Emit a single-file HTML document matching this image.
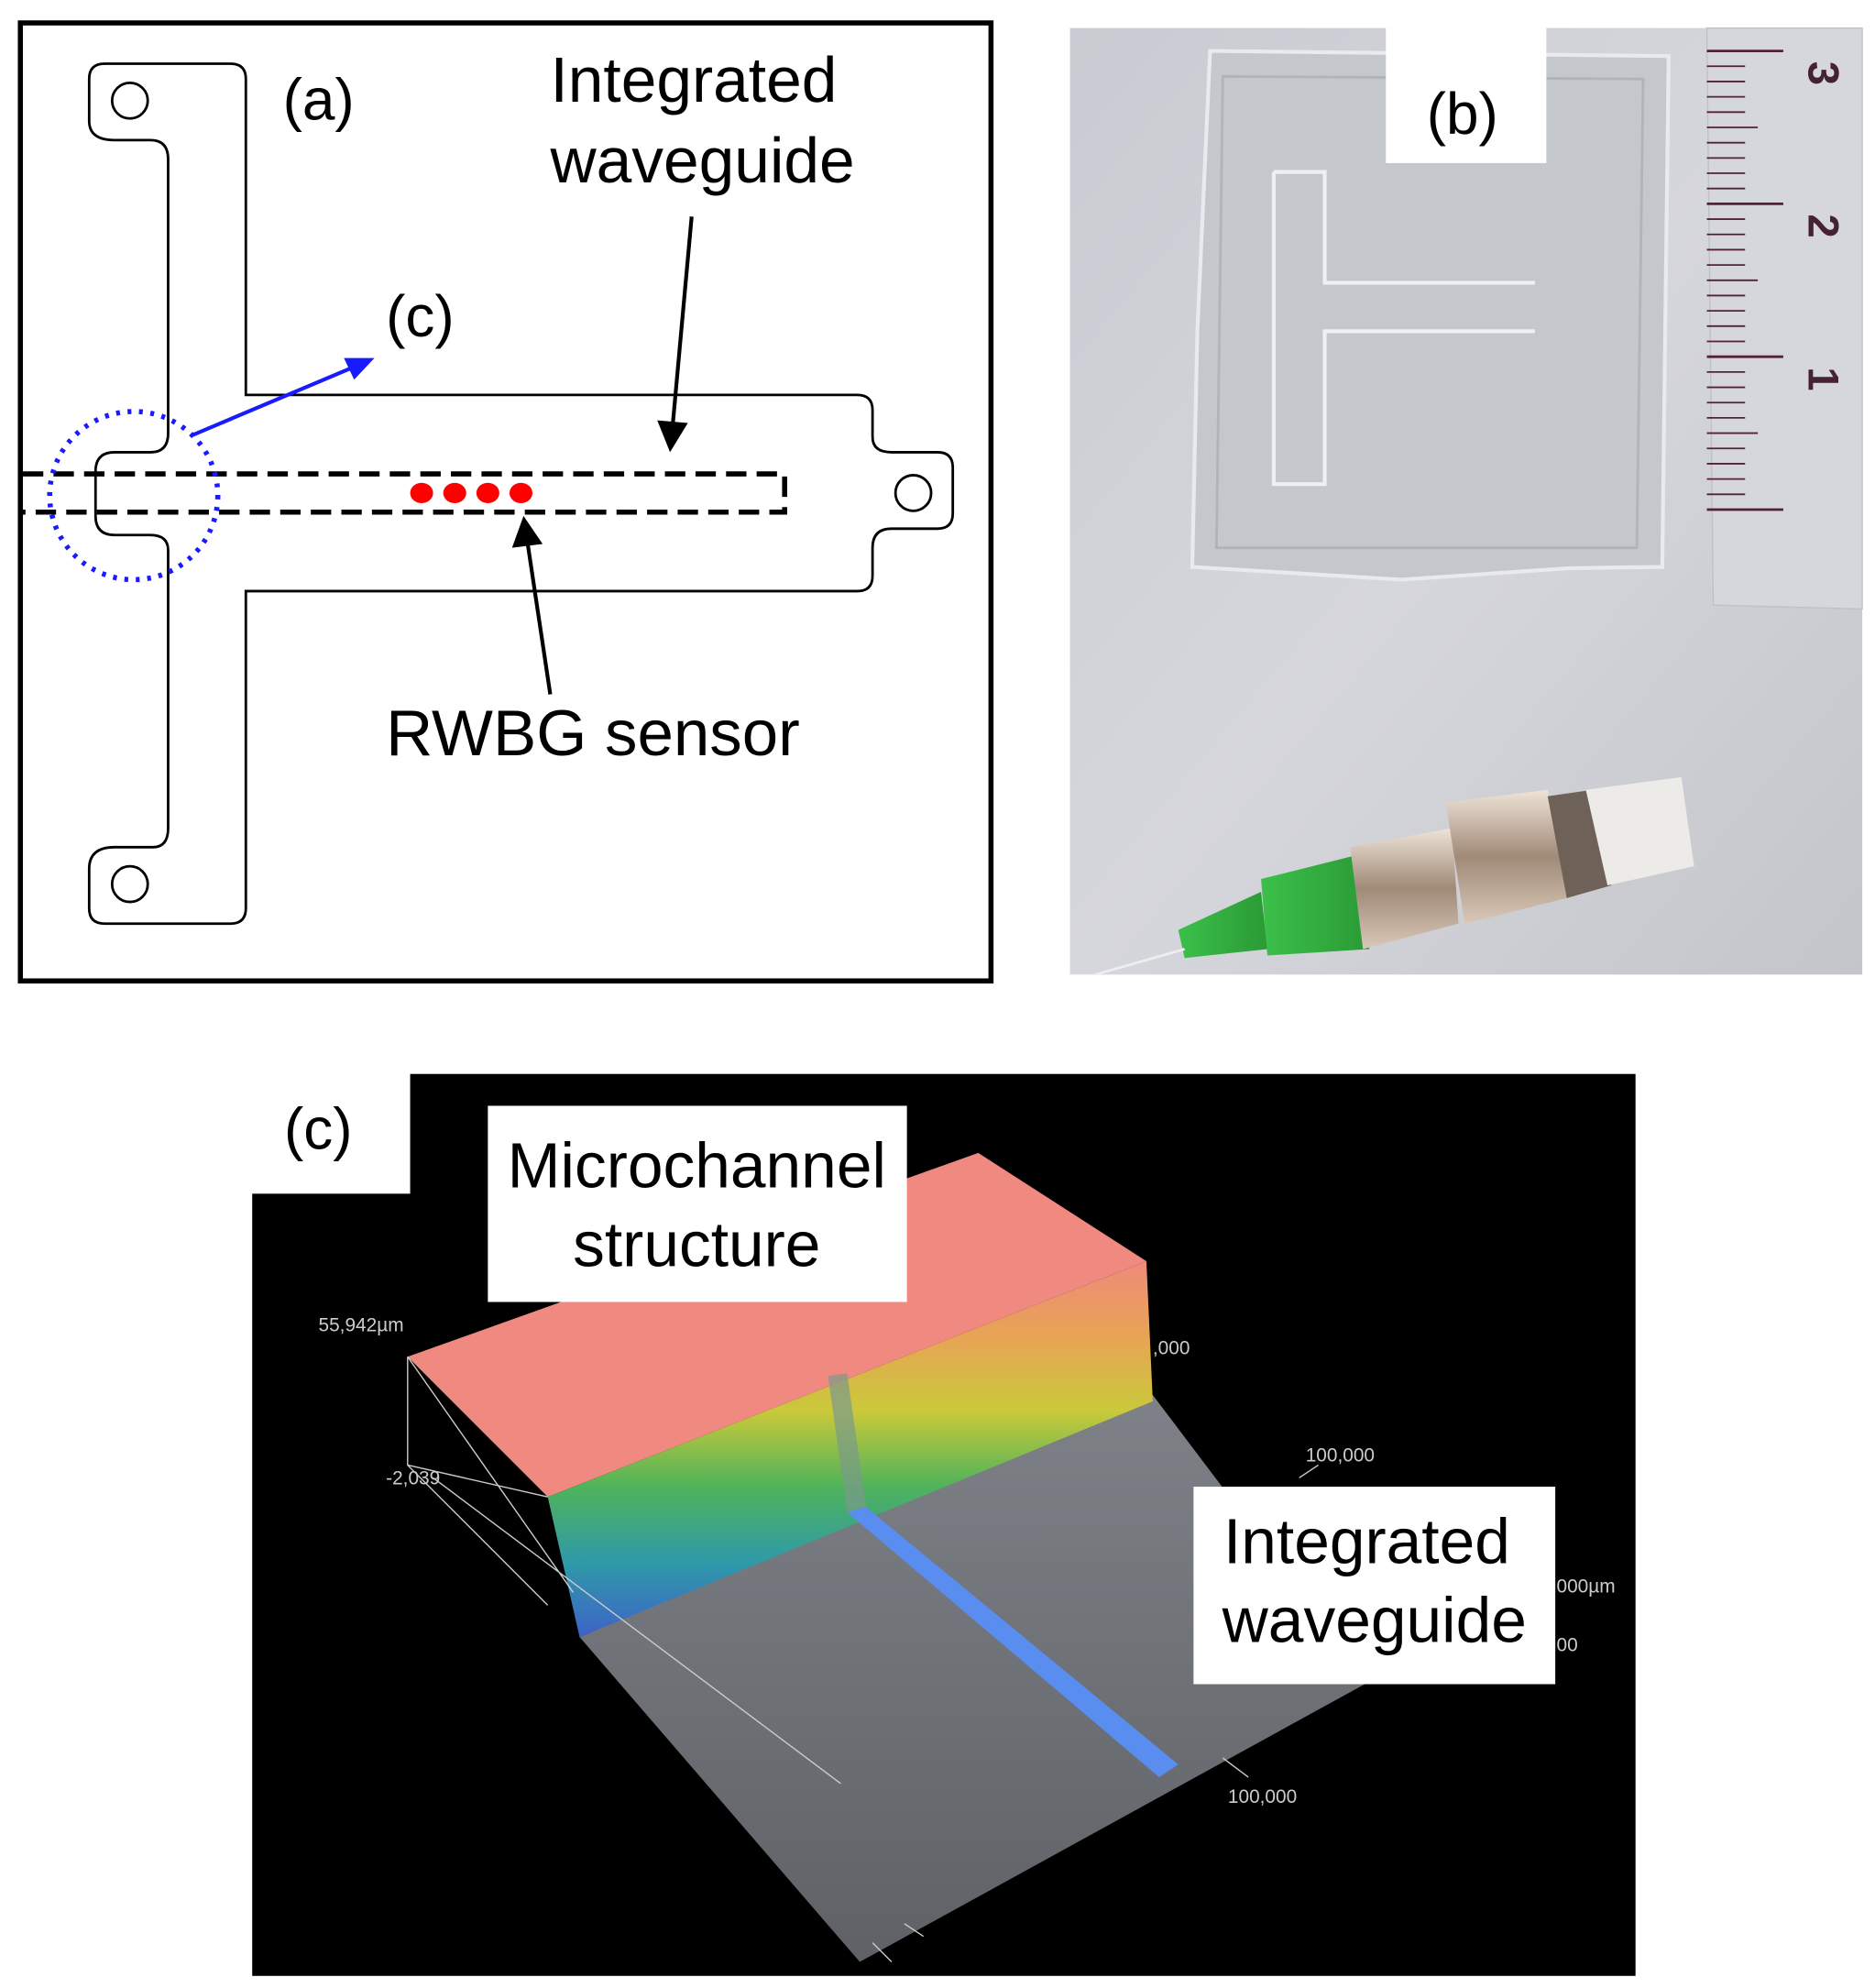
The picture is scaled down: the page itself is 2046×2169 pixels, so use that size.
<!DOCTYPE html>
<html><head><meta charset="utf-8"><style>
html,body{margin:0;padding:0;background:#fff;}
svg{display:block;}
text{font-family:"Liberation Sans",Arial,sans-serif;}
</style></head><body>
<svg width="2046" height="2169" viewBox="0 0 1472 1560.5" xmlns="http://www.w3.org/2000/svg">
<defs>
<linearGradient id="bg" x1="0" y1="0" x2="1" y2="1">
<stop offset="0" stop-color="#c9cbd2"/><stop offset="0.5" stop-color="#d6d7dc"/><stop offset="1" stop-color="#c3c5cb"/></linearGradient>
<linearGradient id="rain" x1="0" y1="0" x2="0" y2="1">
<stop offset="0" stop-color="#ee8a7a"/><stop offset="0.2" stop-color="#e8a455"/><stop offset="0.4" stop-color="#c9c93a"/><stop offset="0.6" stop-color="#4fb35a"/><stop offset="0.8" stop-color="#2f9aa8"/><stop offset="1" stop-color="#3d63c8"/></linearGradient>
<linearGradient id="floor" x1="0" y1="0" x2="0" y2="1">
<stop offset="0" stop-color="#7e8187"/><stop offset="1" stop-color="#5e6166"/></linearGradient>
<linearGradient id="grn" x1="0" y1="0" x2="1" y2="0"><stop offset="0" stop-color="#3cc04a"/><stop offset="1" stop-color="#2a9a35"/></linearGradient>
<linearGradient id="met" x1="0" y1="0" x2="0" y2="1"><stop offset="0" stop-color="#efe4d8"/><stop offset="0.5" stop-color="#a08a78"/><stop offset="1" stop-color="#d9c8b8"/></linearGradient>
</defs>
<rect width="1472" height="1560.5" fill="#fff"/>
<!-- Panel a -->
<rect x="16" y="18" width="762" height="752" fill="#fff" stroke="#000" stroke-width="4"/>
<path d="M82,50 H181 Q193,50 193,62 V310 H673 Q685,310 685,322 V343 Q685,355 700,355 H736 Q748,355 748,367 V403 Q748,415 736,415 H700 Q685,415 685,430 V452 Q685,464 673,464 H193 V713 Q193,725 181,725 H82 Q70,725 70,713 V682 Q70,665 90,665 H120 Q132,665 132,650 V432 Q132,420 118,420 H90 Q75,420 75,405 V370 Q75,355 90,355 H118 Q132,355 132,340 V125 Q132,110 118,110 H90 Q70,110 70,95 V62 Q70,50 82,50 Z" fill="none" stroke="#000" stroke-width="2"/>
<circle cx="102" cy="79" r="14" fill="none" stroke="#000" stroke-width="2"/>
<circle cx="102" cy="694" r="14" fill="none" stroke="#000" stroke-width="2"/>
<circle cx="717" cy="387" r="14" fill="none" stroke="#000" stroke-width="2"/>
<path d="M18,372 H616 V402 H18" fill="none" stroke="#000" stroke-width="4" stroke-dasharray="16,8"/>
<circle cx="105" cy="389" r="66" fill="none" stroke="#1a1aff" stroke-width="4" stroke-dasharray="3,6"/>
<g fill="#ff0000"><ellipse cx="331" cy="387" rx="9" ry="8"/><ellipse cx="357" cy="387" rx="9" ry="8"/><ellipse cx="383" cy="387" rx="9" ry="8"/><ellipse cx="409" cy="387" rx="9" ry="8"/></g>
<line x1="150" y1="342" x2="278" y2="288" stroke="#1a1aff" stroke-width="3"/>
<polygon points="294,281 270,281 278,298" fill="#1a1aff"/>
<line x1="543" y1="170" x2="528" y2="335" stroke="#000" stroke-width="3"/>
<polygon points="526,355 516,330 540,332" fill="#000"/>
<line x1="432" y1="545" x2="414" y2="425" stroke="#000" stroke-width="3"/>
<polygon points="411,405 402,430 426,427" fill="#000"/>
<text x="222" y="94" font-size="46">(a)</text>
<text x="303" y="264" font-size="46">(c)</text>
<text x="432" y="80" font-size="50">Integrated</text>
<text x="432" y="143" font-size="50">waveguide</text>
<text x="303" y="593" font-size="51">RWBG sensor</text>
<!-- Panel b -->
<rect x="840" y="22" width="622" height="743" fill="url(#bg)"/>
<polygon points="950,40 1310,44 1305,445 1232,446 1100,455 936,445 940,260" fill="#c4c8cd" stroke="#e8eaee" stroke-width="3"/>
<polygon points="960,60 1290,62 1285,430 955,430" fill="none" stroke="#b0b4ba" stroke-width="2"/>
<path d="M1000,135 H1040 V222 H1205 M1205,260 H1040 V380 H1000 V135" fill="none" stroke="#eef0f3" stroke-width="3"/>
<polygon points="1340,22 1462,22 1462,478 1345,475" fill="#d5d7dc" stroke="#bfc1c6"/>
<g stroke="#552233" stroke-width="2">
<line x1="1340" y1="40" x2="1400" y2="40"/><line x1="1340" y1="160" x2="1400" y2="160"/><line x1="1340" y1="280" x2="1400" y2="280"/><line x1="1340" y1="400" x2="1400" y2="400"/>
</g>
<g stroke="#552233" stroke-width="1.3">
<path d="M1340,52h30M1340,64h30M1340,76h30M1340,88h30M1340,100h40M1340,112h30M1340,124h30M1340,136h30M1340,148h30M1340,172h30M1340,184h30M1340,196h30M1340,208h30M1340,220h40M1340,232h30M1340,244h30M1340,256h30M1340,268h30M1340,292h30M1340,304h30M1340,316h30M1340,328h30M1340,340h40M1340,352h30M1340,364h30M1340,376h30M1340,388h30"/>
</g>
<text x="1408" y="300" font-size="34" fill="#442233" font-weight="bold" transform="rotate(90 1420 300)">1</text>
<text x="1408" y="180" font-size="34" fill="#442233" font-weight="bold" transform="rotate(90 1420 180)">2</text>
<text x="1408" y="60" font-size="34" fill="#442233" font-weight="bold" transform="rotate(90 1420 60)">3</text>
<rect x="1088" y="22" width="126" height="106" fill="#fff"/>
<text x="1120" y="105" font-size="46">(b)</text>
<polygon points="925,730 990,700 995,745 930,752" fill="url(#grn)"/>
<polygon points="990,690 1070,670 1075,745 995,750" fill="url(#grn)"/>
<polygon points="1060,665 1140,650 1145,725 1070,745" fill="url(#met)"/>
<polygon points="1135,630 1215,620 1230,705 1150,725" fill="url(#met)"/>
<polygon points="1215,625 1250,620 1265,695 1230,705" fill="#6e6258"/>
<polygon points="1245,620 1320,610 1330,680 1262,695" fill="#ecebe8"/>
<line x1="860" y1="765" x2="930" y2="745" stroke="#eee" stroke-width="2"/>
<!-- Panel c -->
<rect x="198" y="843" width="1086" height="708" fill="#000"/>
<polygon points="455,1285 905,1095 1075,1320 675,1540" fill="url(#floor)"/>
<polygon points="320,1065 768,905 900,990 430,1175" fill="#f08a80"/>
<polygon points="430,1175 900,990 905,1100 455,1285" fill="url(#rain)"/>
<polygon points="665,1187 680,1183 925,1385 910,1395" fill="#5a8df0"/>
<polygon points="650,1080 665,1078 680,1183 665,1187" fill="#7a9a8a" opacity="0.7"/>
<g stroke="#ccc" stroke-width="1" fill="none">
<path d="M320,1065 V1150 L430,1260 M320,1150 L430,1175 M320,1065 L450,1250 M340,1160 L660,1400"/>
<path d="M960,1380 L980,1395 M1020,1160 L1035,1150 M685,1525 L700,1540 M710,1510 L725,1520"/>
</g>
<g fill="#ccc" font-size="15">
<text x="250" y="1045">55,942µm</text>
<text x="303" y="1165">-2,039</text>
<text x="905" y="1063">,000</text>
<text x="1025" y="1147">100,000</text>
<text x="964" y="1415">100,000</text>
<text x="1222" y="1250">000µm</text>
<text x="1222" y="1296">00</text>
</g>
<rect x="186" y="840" width="136" height="97" fill="#fff"/>
<text x="223" y="902" font-size="46">(c)</text>
<rect x="383" y="868" width="329" height="154" fill="#fff"/>
<text x="547" y="932" font-size="50" text-anchor="middle">Microchannel</text>
<text x="547" y="994" font-size="50" text-anchor="middle">structure</text>
<rect x="937" y="1167" width="284" height="155" fill="#fff"/>
<text x="1073" y="1227" font-size="50" text-anchor="middle">Integrated</text>
<text x="1079" y="1289" font-size="50" text-anchor="middle">waveguide</text>
</svg>
</body></html>
